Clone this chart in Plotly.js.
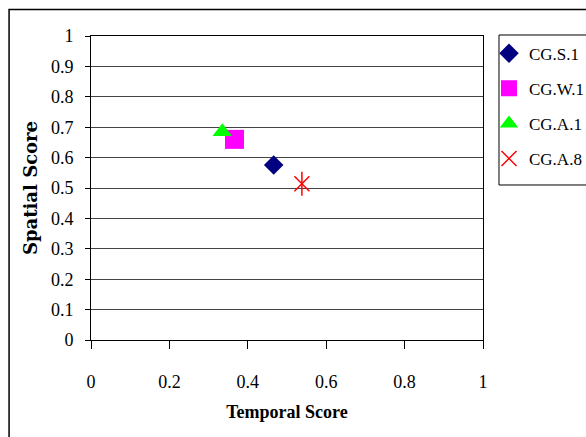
<!DOCTYPE html>
<html>
<head>
<meta charset="utf-8">
<script src="https://cdn.plot.ly/plotly-3.0.1.min.js"></script>
<style>html,body{margin:0;padding:0;background:#fff;}#chart{width:586px;height:437px;}</style>
</head>
<body>
<div id="chart"></div>
<script>
const seriesNames = ["CG.S.1", "CG.W.1", "CG.A.1", "CG.A.8"];
const temporalScores = [0.466, 0.366, 0.335, 0.538];
const spatialScores = [0.576, 0.660, 0.685, 0.514];
const seriesColors = ["#000080", "#FF00FF", "#00FF00", "#FF0000"];
const seriesSymbols = ["diamond", "square", "triangle-up", "x-thin-open"];
const seriesSizes = [15, 19, 17, 15];
const yTickVals = [0, 0.1, 0.2, 0.3, 0.4, 0.5, 0.6, 0.7, 0.8, 0.9, 1];
const xTickVals = [0, 0.2, 0.4, 0.6, 0.8, 1];

const traces = seriesNames.map((name, i) => ({
  type: "scatter",
  mode: "markers",
  name: name,
  legendgroup: name,
  x: [temporalScores[i]],
  y: [spatialScores[i]],
  marker: {
    symbol: seriesSymbols[i],
    size: seriesSizes[i],
    color: seriesColors[i],
    line: {color: seriesColors[i], width: seriesSymbols[i].endsWith("open") ? 1.5 : 0}
  }
}));
// vertical stroke of the asterisk marker for CG.A.8
traces.push({
  type: "scatter",
  mode: "markers",
  name: seriesNames[3],
  legendgroup: seriesNames[3],
  showlegend: false,
  x: [temporalScores[3]],
  y: [spatialScores[3]],
  marker: {symbol: "line-ns-open", size: 17, color: seriesColors[3], line: {color: seriesColors[3], width: 1.5}}
});

const tickFont = {family: "Liberation Serif, Times New Roman, serif", size: 18, color: "#000"};

const layout = {
  width: 586,
  height: 437,
  margin: {l: 91, r: 103, t: 36, b: 97, autoexpand: false},
  paper_bgcolor: "#fff",
  plot_bgcolor: "#fff",
  showlegend: true,
  xaxis: {
    range: [0, 1],
    tickvals: xTickVals,
    ticktext: xTickVals.map(v => String(v)),
    showgrid: false,
    zeroline: false,
    showline: true,
    mirror: true,
    linecolor: "#000",
    linewidth: 1,
    ticks: "outside",
    ticklen: 8,
    tickcolor: "#000",
    ticklabelstandoff: 17,
    tickfont: tickFont,
    title: {text: "Temporal Score", font: {family: "Liberation Serif, Times New Roman, serif", size: 18, color: "#000", weight: "bold"}, standoff: 14}
  },
  yaxis: {
    range: [0, 1],
    tickvals: yTickVals,
    ticktext: yTickVals.map(v => String(v)),
    showgrid: true,
    gridcolor: "#444",
    gridwidth: 1,
    zeroline: false,
    showline: true,
    mirror: true,
    linecolor: "#000",
    linewidth: 1,
    ticks: "outside",
    ticklen: 5,
    tickcolor: "#000",
    ticklabelstandoff: 8,
    tickfont: tickFont,
    title: {text: "Spatial Score", font: {family: "DejaVu Serif, serif", size: 18, color: "#000", weight: "bold"}, standoff: 8}
  },
  legend: {
    x: 1.0153,
    xanchor: "left",
    y: 1.001,
    yanchor: "top",
    borderwidth: 0,
    bgcolor: "rgba(0,0,0,0)",
    font: {family: "Liberation Serif, Times New Roman, serif", size: 17, color: "#000"},
    traceorder: "grouped",
    tracegroupgap: 10
  },
  shapes: [{
    type: "rect", xref: "paper", yref: "paper",
    x0: -0.209, x1: 1.6, y0: -0.6, y1: 1.087,
    line: {color: "#000", width: 1.5},
    fillcolor: "rgba(0,0,0,0)",
    layer: "below"
  }, {
    type: "rect", xref: "paper", yref: "paper",
    x0: 1.0408, x1: 1.6, y0: 0.5099, y1: 1.0033,
    line: {color: "#000", width: 1},
    fillcolor: "rgba(0,0,0,0)",
    layer: "below"
  }]
};

Plotly.newPlot("chart", traces, layout, {displayModeBar: false, staticPlot: true});
</script>
</body>
</html>
